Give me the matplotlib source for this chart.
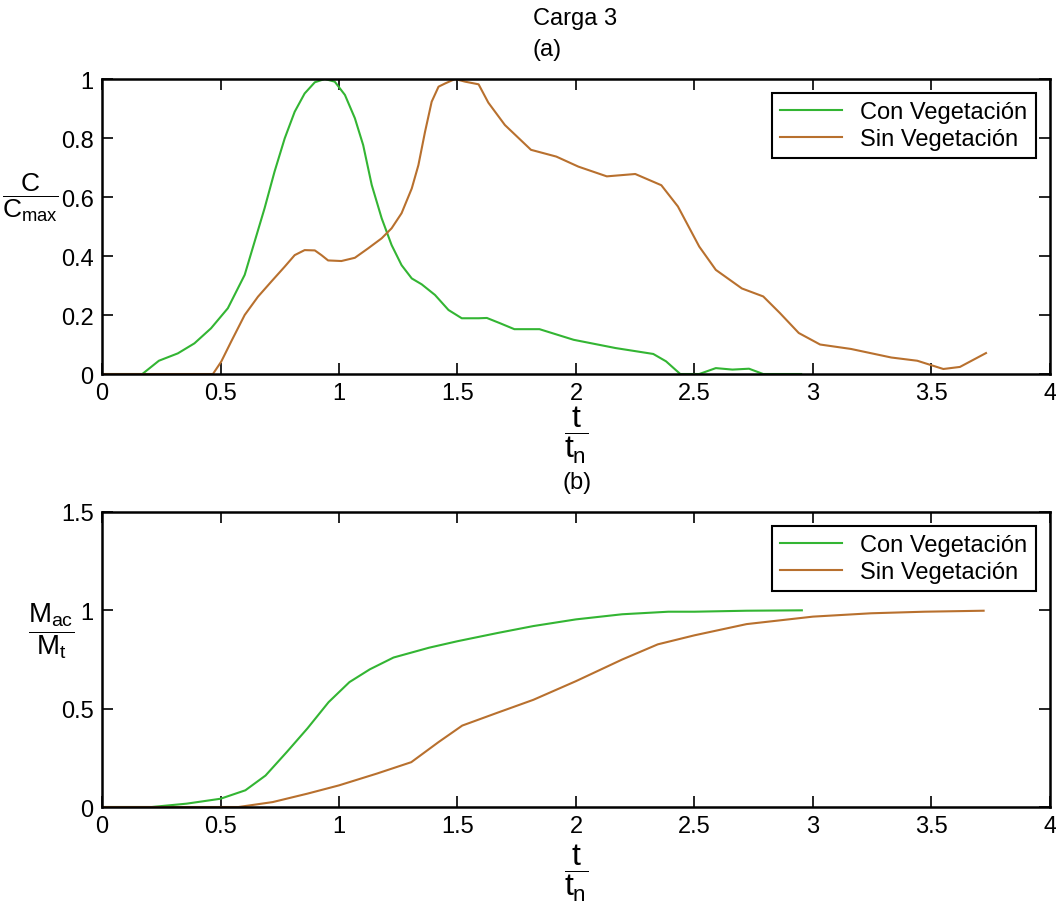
import numpy as np
import matplotlib
matplotlib.use("Agg")
import matplotlib.pyplot as plt

plt.rcParams['font.family'] = ['Liberation Sans', 'DejaVu Sans']
plt.rcParams['mathtext.fontset'] = 'custom'
plt.rcParams['mathtext.rm'] = 'Liberation Sans'
plt.rcParams['mathtext.it'] = 'Liberation Sans'
plt.rcParams['mathtext.bf'] = 'Liberation Sans:bold'

# (a) concentracion relativa C/Cmax
t_con_a = [0, 0.17, 0.24, 0.32, 0.39, 0.46, 0.531, 0.602, 0.644, 0.686, 0.728, 0.771, 0.813,
           0.855, 0.898, 0.94, 0.982, 1.025, 1.067, 1.102, 1.138, 1.18, 1.222, 1.264, 1.307,
           1.349, 1.405, 1.462, 1.518, 1.589, 1.624, 1.68, 1.74, 1.846, 1.99, 2.167, 2.326,
           2.38, 2.44, 2.52, 2.59, 2.66, 2.73, 2.79, 2.95]
c_con_a = [0, 0, 0.045, 0.07, 0.104, 0.155, 0.223, 0.336, 0.449, 0.562, 0.686, 0.799, 0.889,
           0.951, 0.989, 1.0, 0.991, 0.946, 0.867, 0.776, 0.641, 0.528, 0.437, 0.369, 0.324,
           0.304, 0.268, 0.217, 0.189, 0.189, 0.19, 0.172, 0.152, 0.152, 0.116, 0.088, 0.068,
           0.043, 0.0, 0.0, 0.02, 0.015, 0.018, 0.0, 0.0]

t_sin_a = [0, 0.468, 0.503, 0.545, 0.602, 0.658, 0.714, 0.771, 0.813, 0.855, 0.898, 0.926,
           0.954, 1.01, 1.067, 1.123, 1.18, 1.222, 1.264, 1.307, 1.335, 1.363, 1.391, 1.42,
           1.448, 1.49, 1.532, 1.589, 1.63, 1.70, 1.81, 1.917, 2.01, 2.13, 2.25, 2.36, 2.43,
           2.52, 2.59, 2.70, 2.79, 2.86, 2.94, 3.03, 3.16, 3.33, 3.44, 3.55, 3.62, 3.73]
c_sin_a = [0, 0, 0.042, 0.11, 0.2, 0.262, 0.313, 0.364, 0.403, 0.42, 0.419, 0.403,
           0.385, 0.383, 0.394, 0.426, 0.46, 0.494, 0.545, 0.629, 0.708, 0.821, 0.923, 0.974,
           0.985, 1.0, 0.991, 0.982, 0.92, 0.844, 0.76, 0.737, 0.703, 0.67, 0.678, 0.64, 0.568,
           0.432, 0.353, 0.29, 0.263, 0.207, 0.139, 0.10, 0.085, 0.056, 0.045, 0.017, 0.024, 0.071]

# (b) masa acumulada Mac/Mt
t_con_b = [0, 0.21, 0.357, 0.5, 0.605, 0.69, 0.78, 0.867, 0.956, 1.044, 1.13, 1.23, 1.38, 1.5,
           1.67, 1.82, 2.0, 2.195, 2.39, 2.5, 2.72, 2.953]
m_con_b = [0, 0, 0.017, 0.042, 0.085, 0.16, 0.28, 0.40, 0.533, 0.635, 0.70, 0.76, 0.81, 0.843,
           0.885, 0.92, 0.954, 0.98, 0.993, 0.993, 0.998, 1.0]

t_sin_b = [0, 0.576, 0.72, 0.867, 1.0, 1.16, 1.305, 1.42, 1.52, 1.67, 1.82, 2.0, 2.195, 2.345,
           2.5, 2.72, 3.0, 3.245, 3.47, 3.72]
m_sin_b = [0, 0, 0.025, 0.068, 0.11, 0.17, 0.228, 0.33, 0.414, 0.48, 0.545, 0.64, 0.75, 0.827,
           0.873, 0.93, 0.968, 0.985, 0.993, 0.998]

verde = '#33b533'
cafe = '#b8702e'
fs = 17

fig = plt.figure(figsize=(10.56, 9.03), dpi=100)
ax1 = fig.add_axes([0.0966, 0.5847, 0.8977, 0.3267])
ax2 = fig.add_axes([0.0966, 0.1052, 0.8977, 0.3267])

ax1.plot(t_con_a, c_con_a, color=verde, lw=1.5, label='Con Vegetación')
ax1.plot(t_sin_a, c_sin_a, color=cafe, lw=1.5, label='Sin Vegetación')
ax1.set_xlim(0, 4)
ax1.set_ylim(0, 1)
ax1.set_yticks([0, 0.2, 0.4, 0.6, 0.8, 1])
ax1.set_yticklabels(['0', '0.2', '0.4', '0.6', '0.8', '1'])

ax2.plot(t_con_b, m_con_b, color=verde, lw=1.5, label='Con Vegetación')
ax2.plot(t_sin_b, m_sin_b, color=cafe, lw=1.5, label='Sin Vegetación')
ax2.set_xlim(0, 4)
ax2.set_ylim(0, 1.5)
ax2.set_yticks([0, 0.5, 1, 1.5])
ax2.set_yticklabels(['0', '0.5', '1', '1.5'])

# titulos
fig.text(533 / 1056, 1 - 19 / 903, 'Carga 3', fontsize=fs, ha='left', va='center')
fig.text(533 / 1056, 1 - 50 / 903, '(a)', fontsize=fs, ha='left', va='center')
fig.text(577 / 1056, 1 - 483 / 903, '(b)', fontsize=fs, ha='center', va='center')

xt = np.arange(0, 4.01, 0.5)
for ax in (ax1, ax2):
    ax.set_xticks(xt)
    ax.set_xticklabels(['0', '0.5', '1', '1.5', '2', '2.5', '3', '3.5', '4'])
    ax.tick_params(direction='in', length=8, width=1.2, top=True, right=True,
                   labelsize=fs, pad=6)
    for s in ax.spines.values():
        s.set_linewidth(1.8)
    leg = ax.legend(loc='upper right', fontsize=fs, fancybox=False, framealpha=1,
                    edgecolor='black', borderaxespad=0.6, handlelength=2.6,
                    labelspacing=0.2, borderpad=0.35)
    leg.get_frame().set_linewidth(1.5)

ax1.set_xlabel(r'$\dfrac{t}{t_n}$', fontsize=23, labelpad=0)
ax2.set_xlabel(r'$\dfrac{t}{t_n}$', fontsize=23, labelpad=3)

ax1.text(-0.076, 0.6, r'$\dfrac{C}{C_{max}}$', fontsize=19, transform=ax1.transAxes,
         ha='center', va='center')
ax2.text(-0.054, 0.6, r'$\dfrac{M_{ac}}{M_t}$', fontsize=20, transform=ax2.transAxes,
         ha='center', va='center')

fig.savefig('out.png', dpi=100)
